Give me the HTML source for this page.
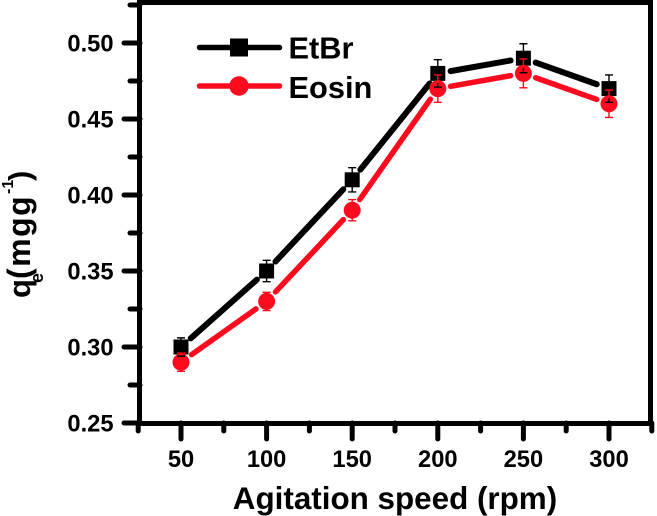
<!DOCTYPE html>
<html>
<head>
<meta charset="utf-8">
<style>
html,body{margin:0;padding:0;background:#fff;}
svg{display:block;font-family:"Liberation Sans",Arial,sans-serif;font-weight:bold;}
</style>
</head>
<body>
<svg id="chart" width="657" height="516" viewBox="0 0 657 516" xmlns="http://www.w3.org/2000/svg"></svg>
<script>
const speeds = [50, 100, 150, 200, 250, 300];
const etbrValues = [0.30, 0.35, 0.41, 0.48, 0.49, 0.47];
const etbrErrors = [0.006, 0.007, 0.008, 0.009, 0.0095, 0.009];
const eosinValues = [0.29, 0.33, 0.39, 0.47, 0.48, 0.46];
const eosinErrors = [0.006, 0.006, 0.007, 0.009, 0.0095, 0.009];
const xTicks = [50, 100, 150, 200, 250, 300];
const xMinorTicks = [25, 75, 125, 175, 225, 275, 325];
const yTicks = ["0.25", "0.30", "0.35", "0.40", "0.45", "0.50"];
const yMinorTicks = ["0.275", "0.325", "0.375", "0.425", "0.475", "0.525"];

const svg = document.getElementById('chart');
const NS = 'http://www.w3.org/2000/svg';
function xPos(v){ return 181 + (v - 50) * 1.712; }
function yPos(v){ return 423 - (v - 0.25) * 1520; }
function make(tag, attrs, text){
  const el = document.createElementNS(NS, tag);
  for (const k in attrs) el.setAttribute(k, attrs[k]);
  if (text !== undefined) el.textContent = text;
  svg.appendChild(el);
  return el;
}
function drawBar(name, color, x, top, bot, width){
  const eb = make('path', {d: `M${x - 4} ${top}H${x + 4}M${x} ${top}V${bot}M${x - 4} ${bot}H${x + 4}`, stroke: color, 'stroke-width': width, fill: 'none'});
  
  
}

function drawLines(name, color, values, width){
  for (let i = 0; i < values.length - 1; i++){
    const x1 = xPos(speeds[i]), y1 = yPos(values[i]);
    const x2 = xPos(speeds[i + 1]), y2 = yPos(values[i + 1]);
    const len = Math.hypot(x2 - x1, y2 - y1);
    const ux = (x2 - x1) / len, uy = (y2 - y1) / len;
    const gap = 13;
    const seg = make('line', {x1: x1 + ux * gap, y1: y1 + uy * gap, x2: x2 - ux * gap, y2: y2 - uy * gap, stroke: color, 'stroke-width': width, 'stroke-linecap': 'round'});
    
    
  }
}
drawLines('etbr', '#000', etbrValues, 6);
drawLines('eosin', '#fe0a1e', eosinValues, 5.5);

// EtBr markers and error bars
etbrValues.forEach((v, i) => {
  const x = xPos(speeds[i]), y = yPos(v);
  const m = make('rect', {x: x - 7.5, y: y - 7.5, width: 15, height: 15, fill: '#000'});
  
  
  drawBar('etbr', '#000', x, yPos(v + etbrErrors[i]), yPos(v - etbrErrors[i]), 1.4);
});
// Eosin markers and error bars
eosinValues.forEach((v, i) => {
  const x = xPos(speeds[i]), y = yPos(v);
  const m = make('circle', {cx: x, cy: y, r: 8.5, fill: '#fe0a1e'});
  
  
  drawBar('eosin', '#fe0a1e', x, yPos(v + eosinErrors[i]), yPos(v - eosinErrors[i]), 1.4);
});
// Lower part of the EtBr error bars shows through the red markers
etbrValues.forEach((v, i) => {
  const x = xPos(speeds[i]);
  const bot = yPos(v - etbrErrors[i]);
  const circleTop = yPos(eosinValues[i]) - 8.5;
  if (bot > circleTop){
    const eb = make('path', {d: `M${x} ${circleTop + 3}V${bot}M${x - 4} ${bot}H${x + 4}`, stroke: '#000', 'stroke-width': 1.4, fill: 'none'});
    
    
  }
});

// frame
const frame = make('rect', {x: 139.5, y: 2.5, width: 511, height: 421, fill: 'none', stroke: '#000', 'stroke-width': 5});



// x ticks
xTicks.forEach(t => {
  const x = xPos(t);
  const tick = make('line', {x1: x, y1: 423, x2: x, y2: 439, stroke: '#000', 'stroke-width': 5, 'stroke-linecap': 'round'});
  
  
  const lab = make('text', {x: x, y: 467, 'text-anchor': 'middle', 'font-size': 23.7}, String(t));
  
  
});
xMinorTicks.forEach(t => {
  const x = xPos(t);
  const tick = make('line', {x1: x, y1: 423, x2: x, y2: 431, stroke: '#000', 'stroke-width': 5, 'stroke-linecap': 'round'});
  
  
});

// y ticks
yTicks.forEach(t => {
  const y = yPos(parseFloat(t));
  const tick = make('line', {x1: 124, y1: y, x2: 140, y2: y, stroke: '#000', 'stroke-width': 5, 'stroke-linecap': 'round'});
  
  
  const lab = make('text', {x: 113.5, y: y + 8.5, 'text-anchor': 'end', 'font-size': 23.7}, t);
  
  
});
yMinorTicks.forEach(t => {
  const y = yPos(parseFloat(t));
  const tick = make('line', {x1: 130, y1: y, x2: 140, y2: y, stroke: '#000', 'stroke-width': 5, 'stroke-linecap': 'round'});
  
  
});
</script>
<svg width="657" height="516" viewBox="0 0 657 516" xmlns="http://www.w3.org/2000/svg" style="position:absolute;left:0;top:0;font-family:'Liberation Sans',Arial,sans-serif;font-weight:bold;">
  <g>
    <line x1="199.5" y1="47.5" x2="279.5" y2="47.5" stroke="#000" stroke-width="5.5" stroke-linecap="round"/>
    <rect x="230" y="38.5" width="18" height="18" fill="#000"/>
    <text x="288.5" y="58.5" font-size="30.8">EtBr</text>
    <line x1="199.5" y1="86" x2="279.5" y2="86" stroke="#fe0a1e" stroke-width="5.5" stroke-linecap="round"/>
    <circle cx="239" cy="86" r="9.7" fill="#fe0a1e"/>
    <text x="288.5" y="98" font-size="30.8">Eosin</text>
  </g>
  <text x="395" y="509" text-anchor="middle" font-size="31.4">Agitation speed (rpm)</text>
  <g>
    <text transform="translate(30,298) rotate(-90)" font-size="31">q</text>
    <text transform="translate(43,283) rotate(-90)" font-size="18">e</text>
    <text transform="translate(30,279) rotate(-90)" font-size="32" letter-spacing="1.5">(mgg</text>
    <text transform="translate(13,194) rotate(-90)" font-size="16">-1</text>
    <text transform="translate(30,181) rotate(-90)" font-size="31">)</text>
  </g>
</svg>
</body>
</html>
